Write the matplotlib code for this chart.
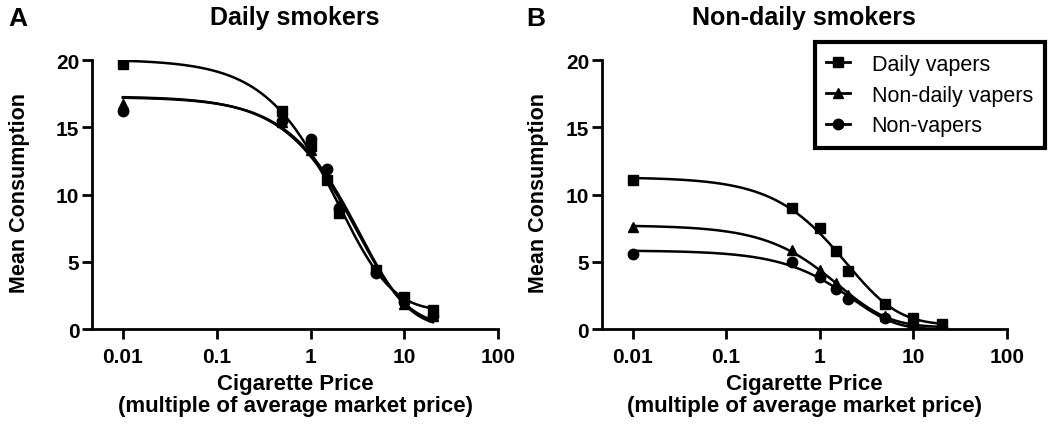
import matplotlib
matplotlib.use('Agg')
import matplotlib.pyplot as plt
import numpy as np

plt.rcParams['font.family'] = ['Liberation Sans', 'DejaVu Sans']

price = [0.01, 0.5, 1, 1.5, 2, 5, 10, 20]
groups = ['Daily vapers', 'Non-daily vapers', 'Non-vapers']
markers = ['s', '^', 'o']

# Panel A: daily smokers
daily_dv = [19.7, 16.2, 13.6, 11.1, 8.6, 4.4, 2.4, 1.4]
daily_ndv = [16.7, 15.4, 13.3, 11.3, 9.2, 4.5, 1.9, 1.0]
daily_nv = [16.2, 15.5, 14.1, 11.9, 9.0, 4.2, 2.0, 1.0]

# Panel B: non-daily smokers
nondaily_dv = [11.1, 9.0, 7.5, 5.8, 4.3, 1.9, 0.8, 0.4]
nondaily_ndv = [7.6, 5.9, 4.4, 3.4, 2.5, 1.0, 0.3, 0.2]
nondaily_nv = [5.6, 5.0, 3.9, 3.0, 2.2, 0.8, 0.2, 0.1]


def fit_curve(x, y):
    # exponentiated demand fit: Q = Q0 * 10^(k * (exp(-b*C) - 1)), grid search
    x = np.asarray(x, float)
    y = np.asarray(y, float)
    best = None
    for k in np.linspace(0.3, 6, 115):
        for b in np.logspace(-3, 1, 201):
            g = 10 ** (k * (np.exp(-b * x) - 1))
            q0 = np.dot(g, y) / np.dot(g, g)
            err = np.sum((y - q0 * g) ** 2)
            if best is None or err < best[0]:
                best = (err, q0, k, b)
    _, q0, k, b = best
    xs = np.logspace(-2, np.log10(20), 300)
    return xs, q0 * 10 ** (k * (np.exp(-b * xs) - 1))


def draw_panel(ax, series, title, legend=False):
    for vals, m, lab in zip(series, markers, groups):
        xs, ys = fit_curve(price, vals)
        ax.plot(xs, ys, color='black', lw=1.8, zorder=2)
        ax.plot(price, vals, linestyle='none', marker=m, color='black',
                markersize=7.5, zorder=3)
        ax.plot([], [], color='black', lw=2, marker=m, markersize=7.5, label=lab)
    ax.set_xscale('log')
    ax.set_xlim(10 ** -2.33, 100)
    ax.set_ylim(0, 20)
    ax.set_xticks([0.01, 0.1, 1, 10, 100])
    ax.set_xticklabels(['0.01', '0.1', '1', '10', '100'])
    ax.set_yticks([0, 5, 10, 15, 20])
    ax.minorticks_off()
    for side in ['top', 'right']:
        ax.spines[side].set_visible(False)
    for side in ['left', 'bottom']:
        ax.spines[side].set_linewidth(2)
    ax.tick_params(width=2, length=7, labelsize=15)
    ax.tick_params(axis='y', pad=2)
    ax.tick_params(axis='x', pad=6)
    for lbl in ax.get_xticklabels() + ax.get_yticklabels():
        lbl.set_fontweight('bold')
    ax.set_xlabel('Cigarette Price\n(multiple of average market price)',
                  fontsize=16, fontweight='bold', labelpad=5, linespacing=1.05)
    ax.set_ylabel('Mean Consumption', fontsize=15.5, fontweight='bold')
    ax.set_title(title, fontsize=18, fontweight='bold', pad=26)
    if legend:
        leg = ax.legend(loc='upper right', bbox_to_anchor=(1.093, 1.067),
                        borderaxespad=0, fontsize=15.5, fancybox=False,
                        edgecolor='black', framealpha=1, handlelength=1.1,
                        handletextpad=1.0, borderpad=0.55, labelspacing=0.45)
        leg.get_frame().set_linewidth(3)


fig = plt.figure(figsize=(10.5, 4.27), dpi=100)
ax1 = fig.add_axes([0.0876, 0.227, 0.387, 0.630])
ax2 = fig.add_axes([0.573, 0.227, 0.386, 0.630])

draw_panel(ax1, [daily_dv, daily_ndv, daily_nv], 'Daily smokers')
draw_panel(ax2, [nondaily_dv, nondaily_ndv, nondaily_nv], 'Non-daily smokers',
           legend=True)
ax1.yaxis.set_label_coords(-0.153, 0.51)
ax2.yaxis.set_label_coords(-0.129, 0.51)

fig.text(0.008, 0.955, 'A', fontsize=19, fontweight='bold', va='center')
fig.text(0.501, 0.955, 'B', fontsize=19, fontweight='bold', va='center')

fig.savefig('out.png', dpi=100)
